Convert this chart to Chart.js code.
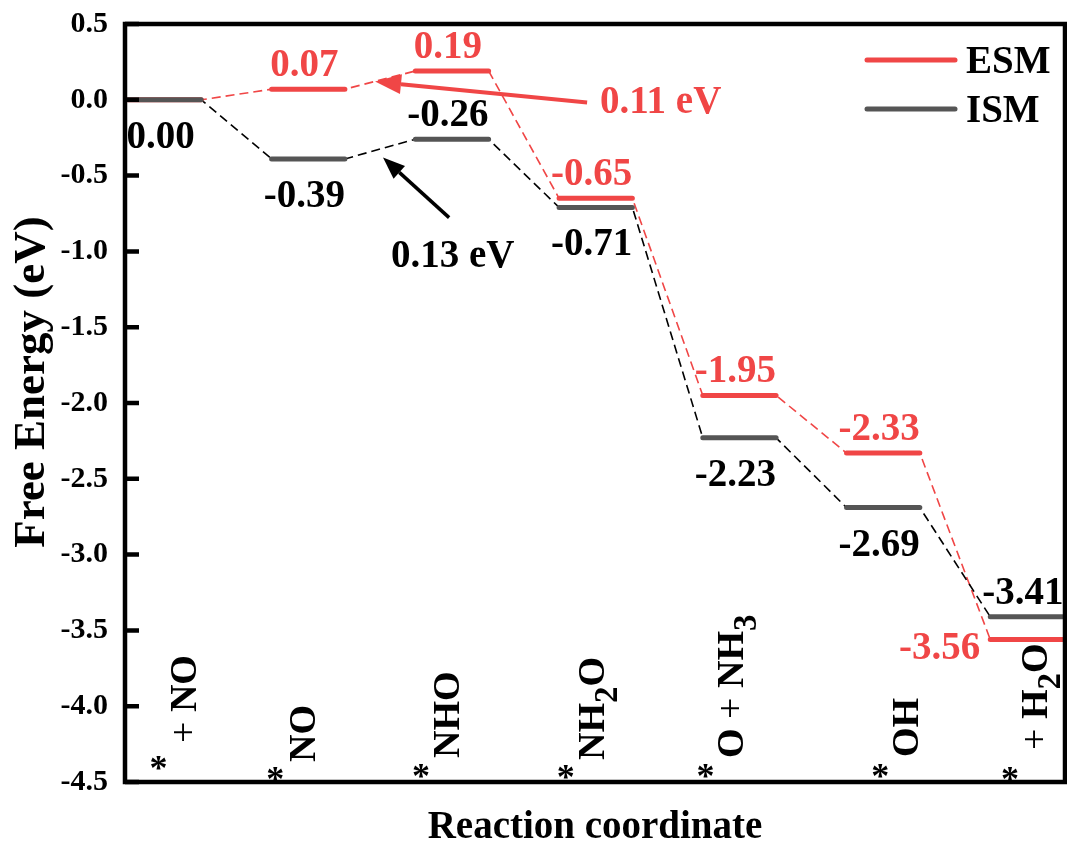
<!DOCTYPE html>
<html lang="en">
<head>
<meta charset="UTF-8">
<title>Free Energy Diagram</title>
<script src="https://cdn.jsdelivr.net/npm/chart.js@4.4.1/dist/chart.umd.min.js"></script>
<style>
  html, body { margin: 0; padding: 0; background: #fff; }
  #wrap { width: 1067px; height: 847px; }
</style>
</head>
<body>
<div id="wrap"><canvas id="energyChart"></canvas></div>
<script>
// intermediates: '*' = adsorption site, '_n' = subscript
const steps = ['* + NO', '*NO', '*NHO', '*NH_2O', '*O + NH_3', '*OH', '* + H_2O'];
const esmEnergy = [0.00, 0.07, 0.19, -0.65, -1.95, -2.33, -3.56];
const ismEnergy = [0.00, -0.39, -0.26, -0.71, -2.23, -2.69, -3.41];
const seriesNames = ['ESM', 'ISM'];
const yTicks = [0.5, 0.0, -0.5, -1.0, -1.5, -2.0, -2.5, -3.0, -3.5, -4.0, -4.5];
const barrierText = ['0.11 eV', '0.13 eV'];

const RED = '#F04646';
const GRAY = '#555555';
const SERIF = '"Liberation Serif", "Times New Roman", Times, serif';
const barStart = 0.02, barEnd = 0.53;

// flat level segments separated by gaps
function levelPoints(vals) {
  const pts = [];
  vals.forEach((v, i) => {
    pts.push({ x: i + barStart, y: v }, { x: i + barEnd, y: v });
    if (i < vals.length - 1) pts.push({ x: i + barEnd + 0.2, y: null });
  });
  return pts;
}
// continuous path, drawn dashed under the levels
function pathPoints(vals) {
  const pts = [];
  vals.forEach((v, i) => pts.push({ x: i + barStart, y: v }, { x: i + barEnd, y: v }));
  return pts;
}

// where each value label sits relative to its level
const esmPlace = [null, 'above', 'above', 'above', 'above', 'above', 'left'];
const ismPlace = ['below', 'below', 'above', 'below', 'below', 'below', 'above'];

// rotated step labels: asterisk offset, text column offset, text start
const astDx = [-6, -33, -31, -30, -34, -3, -17];
const astY = [762, 773, 770, 771, 770, 770, 773];
const txtDx = [19, -6, -6, -4, -9, 22, 8];
const txtY = [743, 762, 758, 760, 758, 757, 750];

function drawFormula(ctx, str, cx, y0) {
  const fs = 38;
  const base = fs * 0.33;
  ctx.save();
  ctx.translate(cx, y0);
  ctx.rotate(-Math.PI / 2);
  ctx.textAlign = 'left';
  ctx.textBaseline = 'alphabetic';
  ctx.fillStyle = '#000';
  let x = 0;
  for (let i = 0; i < str.length; i++) {
    let ch = str[i];
    if (ch === '_') {
      ch = str[++i];
      ctx.font = 'bold 33px ' + SERIF;
      ctx.fillText(ch, x, base + 13);
      x += ctx.measureText(ch).width;
      continue;
    }
    ctx.font = (ch === '+' ? '' : 'bold ') + fs + 'px ' + SERIF;
    ctx.fillText(ch, x, base);
    x += ctx.measureText(ch).width;
  }
  ctx.restore();
}

function arrow(ctx, x1, y1, x2, y2, color, lw, headLen, headW) {
  const ang = Math.atan2(y2 - y1, x2 - x1);
  const bx = x2 - headLen * Math.cos(ang), by = y2 - headLen * Math.sin(ang);
  ctx.save();
  ctx.strokeStyle = color;
  ctx.fillStyle = color;
  ctx.lineWidth = lw;
  ctx.beginPath();
  ctx.moveTo(x1, y1);
  ctx.lineTo(bx, by);
  ctx.stroke();
  ctx.beginPath();
  ctx.moveTo(x2, y2);
  ctx.lineTo(bx + headW / 2 * Math.sin(ang), by - headW / 2 * Math.cos(ang));
  ctx.lineTo(bx - headW / 2 * Math.sin(ang), by + headW / 2 * Math.cos(ang));
  ctx.closePath();
  ctx.fill();
  ctx.restore();
}

const decor = {
  id: 'decor',
  afterDatasetsDraw(chart) {
    const { ctx, scales: { x, y } } = chart;
    const mid = i => x.getPixelForValue(i + (barStart + barEnd) / 2);

    // energy values
    ctx.save();
    ctx.font = 'bold 39px ' + SERIF;
    ctx.textBaseline = 'alphabetic';
    const put = (vals, place, color) => {
      vals.forEach((v, i) => {
        if (!place[i]) return;
        const py = y.getPixelForValue(v);
        ctx.fillStyle = color;
        const txt = v.toFixed(2);
        if (place[i] === 'left') {
          ctx.textAlign = 'right';
          ctx.fillText(txt, x.getPixelForValue(i + barStart) - 10, py + 20);
        } else {
          ctx.textAlign = 'center';
          ctx.fillText(txt, mid(i) - 4, place[i] === 'above' ? py - 13 : py + 48);
        }
      });
    };
    put(esmEnergy, esmPlace, RED);
    put(ismEnergy, ismPlace, '#000');
    ctx.restore();

    // step labels along the bottom
    ctx.save();
    steps.forEach((s, i) => {
      const c = mid(i);
      ctx.fillStyle = '#000';
      ctx.font = 'bold 36px ' + SERIF;
      ctx.textAlign = 'center';
      ctx.textBaseline = 'alphabetic';
      ctx.fillText('*', c + astDx[i], astY[i] + 18);
      drawFormula(ctx, s.replace('*', '').trim(), c + txtDx[i], txtY[i]);
    });
    ctx.restore();

    // barrier arrows
    arrow(ctx, x.getPixelForValue(3.215), y.getPixelForValue(-0.018),
          x.getPixelForValue(1.74), y.getPixelForValue(0.12), RED, 4, 26, 20);
    arrow(ctx, x.getPixelForValue(2.255), y.getPixelForValue(-0.777),
          x.getPixelForValue(1.795), y.getPixelForValue(-0.381), '#000', 3.5, 22, 17);
    ctx.save();
    ctx.font = 'bold 39px ' + SERIF;
    ctx.textAlign = 'left';
    ctx.fillStyle = RED;
    ctx.fillText(barrierText[0], 600, 113);
    ctx.fillStyle = '#000';
    ctx.fillText(barrierText[1], 391, 267);
    ctx.restore();

    // legend
    ctx.save();
    const legendColors = [RED, GRAY];
    seriesNames.forEach((n, i) => {
      const ly = 60 + i * 49;
      ctx.strokeStyle = legendColors[i];
      ctx.lineWidth = 5;
      ctx.lineCap = 'round';
      ctx.beginPath();
      ctx.moveTo(867, ly);
      ctx.lineTo(955, ly);
      ctx.stroke();
      ctx.fillStyle = '#000';
      ctx.font = 'bold 39px ' + SERIF;
      ctx.textAlign = 'left';
      ctx.textBaseline = 'alphabetic';
      ctx.fillText(n, 966, ly + 13);
    });
    ctx.restore();

    // y-axis title
    ctx.save();
    ctx.translate(32, 382);
    ctx.rotate(-Math.PI / 2);
    ctx.font = 'bold 45px ' + SERIF;
    ctx.fillStyle = '#000';
    ctx.textAlign = 'center';
    ctx.textBaseline = 'middle';
    ctx.fillText('Free Energy (eV)', 0, 0);
    ctx.restore();
  },
  afterDraw(chart) {
    const { ctx, chartArea: a, scales: { y } } = chart;
    ctx.save();
    ctx.strokeStyle = '#000';
    ctx.lineWidth = 4.5;
    ctx.strokeRect(a.left, a.top, a.right - a.left, a.bottom - a.top);
    // inward tick marks
    ctx.beginPath();
    yTicks.forEach(v => {
      const py = y.getPixelForValue(v);
      ctx.moveTo(a.left, py);
      ctx.lineTo(a.left + 14, py);
    });
    ctx.stroke();
    ctx.restore();
  }
};

new Chart(document.getElementById('energyChart'), {
  type: 'line',
  data: {
    datasets: [
      { label: seriesNames[1], data: levelPoints(ismEnergy), borderColor: GRAY, borderWidth: 5, borderCapStyle: 'round', spanGaps: false },
      { label: seriesNames[0], data: levelPoints(esmEnergy), borderColor: RED, borderWidth: 5, borderCapStyle: 'round', spanGaps: false },
      { label: 'ism-path', data: pathPoints(ismEnergy), borderColor: '#000', borderWidth: 1.6, borderDash: [9, 5] },
      { label: 'esm-path', data: pathPoints(esmEnergy), borderColor: RED, borderWidth: 1.6, borderDash: [9, 5] }
    ]
  },
  options: {
    responsive: true,
    maintainAspectRatio: false,
    animation: false,
    events: [],
    elements: { point: { radius: 0 }, line: { tension: 0 } },
    layout: { padding: { top: 24, right: 2, left: 0, bottom: 0 } },
    plugins: { legend: { display: false }, tooltip: { enabled: false } },
    scales: {
      x: {
        type: 'linear',
        min: 0,
        max: 6.54,
        grid: { display: false, drawTicks: false },
        border: { display: false },
        ticks: { display: false },
        title: {
          display: true,
          text: 'Reaction coordinate',
          color: '#000',
          font: { family: SERIF, size: 39, weight: 'bold', lineHeight: 1 },
          padding: { top: 0, bottom: 0 }
        },
        afterFit(scale) { scale.height = 65; }
      },
      y: {
        type: 'linear',
        min: -4.5,
        max: 0.5,
        afterBuildTicks(scale) { scale.ticks = yTicks.map(v => ({ value: v })); },
        // tick marks are drawn inward by the plugin; tickLength only spaces the labels
        grid: { display: false, drawTicks: true, tickLength: 17 },
        border: { display: false },
        ticks: {
          color: '#000',
          padding: 0,
          font: { family: SERIF, size: 30, weight: 'bold' },
          callback: v => v.toFixed(1)
        },
        afterFit(scale) { scale.width = 125; }
      }
    }
  },
  plugins: [decor]
});
</script>
</body>
</html>
